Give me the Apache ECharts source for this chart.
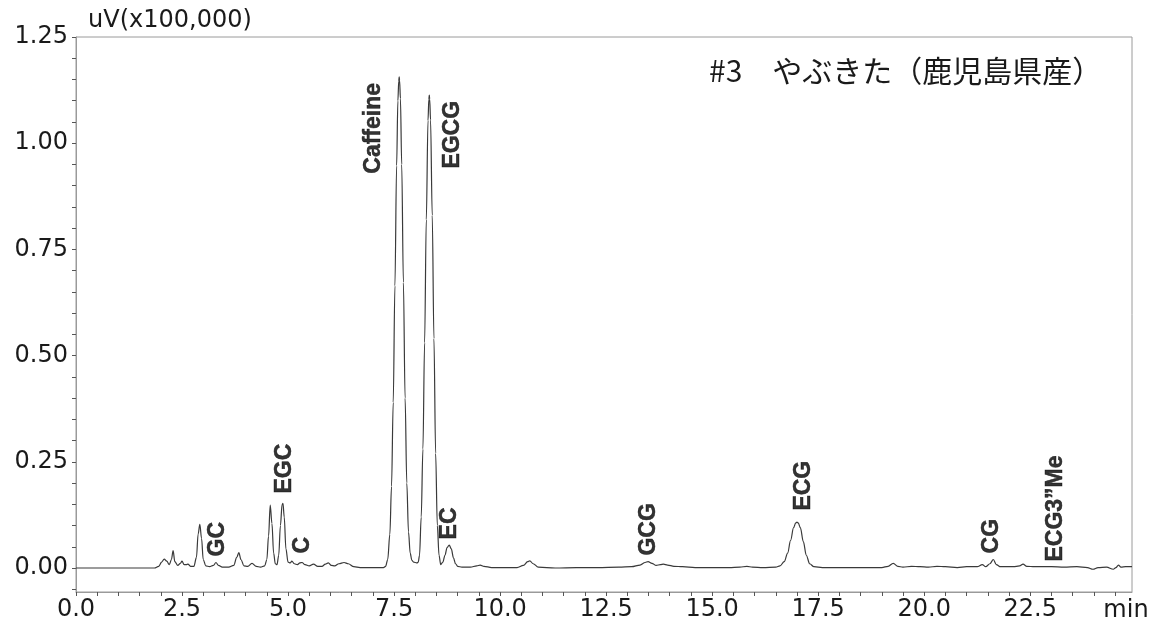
<!DOCTYPE html>
<html><head><meta charset="utf-8">
<script src="https://cdn.jsdelivr.net/npm/echarts@6/dist/echarts.min.js"></script>
<style>html,body{margin:0;padding:0;background:#fff}#c{width:1166px;height:644px}</style>
</head><body><div id="c"></div>
<script>
// Retention time (min)
const times = [
  0, 1.85, 1.95, 2.02, 2.08, 2.14, 2.20, 2.25, 2.29, 2.33, 2.40, 2.46, 2.50, 2.55, 2.60, 2.64, 2.70, 2.78,
  2.84, 2.88, 2.92, 2.96, 3.00, 3.06, 3.15, 3.24, 3.30, 3.36, 3.45, 3.60, 3.72, 3.79, 3.84, 3.89, 3.96,
  4.05, 4.15, 4.25, 4.35, 4.45, 4.50, 4.54, 4.58, 4.62, 4.66, 4.70, 4.74, 4.78, 4.82, 4.86, 4.88, 4.91,
  4.95, 5.00, 5.05, 5.09, 5.15, 5.22, 5.28, 5.33, 5.40, 5.50, 5.60, 5.70, 5.80, 5.88, 5.95, 6.02, 6.10,
  6.20, 6.32, 6.42, 6.55, 6.70, 7.00, 7.25,
  7.30, 7.35, 7.40, 7.44, 7.48, 7.52, 7.56, 7.59, 7.61, 7.62, 7.63, 7.65, 7.68, 7.72, 7.76, 7.80, 7.84, 7.88, 7.92,
  7.96, 8.00, 8.04, 8.07, 8.10, 8.14, 8.18, 8.22, 8.26, 8.30, 8.32, 8.33, 8.34, 8.36, 8.40, 8.44, 8.48, 8.52, 8.56,
  8.60, 8.65, 8.70, 8.75, 8.80, 8.85, 8.90, 8.95, 9.00, 9.10, 9.30, 9.45, 9.53, 9.62, 9.80, 10.40, 10.55,
  10.65, 10.70, 10.78, 10.90, 11.30, 11.80, 12.30, 12.80, 13.10, 13.30, 13.42, 13.49, 13.58, 13.68, 13.78,
  13.85, 13.95, 14.10, 14.30, 14.60, 15.00, 15.40, 15.65, 15.82, 15.95, 16.20, 16.50, 16.60, 16.70, 16.78,
  16.85, 16.92, 16.97, 17.00, 17.03, 17.08, 17.15, 17.22, 17.30, 17.40, 17.60, 18.00, 18.50, 19.00, 19.15, 19.27, 19.38,
  19.50, 19.70, 19.90, 20.10, 20.30, 20.50, 20.78, 21.00, 21.25, 21.37, 21.45, 21.55, 21.63, 21.70, 21.80,
  22.10, 22.25, 22.33, 22.42, 22.60, 23.00, 23.30, 23.60, 23.85, 23.98, 24.10, 24.30, 24.46, 24.52, 24.58,
  24.64, 24.75, 24.90
];
// Detector signal, uV (x100,000)
const signal = [
  0.000, 0.000, 0.004, 0.014, 0.021, 0.016, 0.008, 0.020, 0.041, 0.015, 0.006, 0.011, 0.016, 0.008, 0.008, 0.009, 0.004, 0.004,
  0.025, 0.080, 0.103, 0.070, 0.020, 0.005, 0.003, 0.006, 0.013, 0.006, 0.002, 0.002, 0.006, 0.025, 0.036, 0.020, 0.005,
  0.004, 0.011, 0.004, 0.002, 0.005, 0.020, 0.075, 0.148, 0.105, 0.035, 0.010, 0.008, 0.030, 0.100, 0.150, 0.152, 0.120,
  0.045, 0.014, 0.012, 0.016, 0.010, 0.008, 0.012, 0.013, 0.008, 0.005, 0.009, 0.004, 0.004, 0.009, 0.012, 0.006, 0.005,
  0.010, 0.013, 0.010, 0.003, 0.001, 0.001, 0.001,
  0.004, 0.020, 0.079, 0.192, 0.390, 0.664, 0.947, 1.100, 1.146, 1.156, 1.148, 1.105, 0.950, 0.672, 0.400, 0.200, 0.085, 0.035, 0.018,
  0.014, 0.013, 0.012, 0.014, 0.030, 0.120, 0.280, 0.530, 0.820, 1.053, 1.103, 1.113, 1.104, 1.055, 0.830, 0.540, 0.270, 0.100, 0.030,
  0.008, 0.014, 0.030, 0.048, 0.054, 0.045, 0.024, 0.010, 0.004, 0.002, 0.002, 0.005, 0.007, 0.004, 0.001, 0.001, 0.006,
  0.015, 0.017, 0.010, 0.002, 0.000, 0.001, 0.001, 0.002, 0.003, 0.007, 0.013, 0.015, 0.011, 0.006, 0.008,
  0.009, 0.007, 0.004, 0.003, 0.001, 0.001, 0.001, 0.002, 0.004, 0.002, 0.001, 0.002, 0.005, 0.015, 0.035,
  0.065, 0.095, 0.106, 0.108, 0.106, 0.095, 0.062, 0.030, 0.010, 0.003, 0.001, 0.001, 0.001, 0.001, 0.004, 0.011, 0.004,
  0.002, 0.004, 0.003, 0.002, 0.004, 0.003, 0.001, 0.003, 0.003, 0.008, 0.003, 0.010, 0.020, 0.008, 0.003,
  0.003, 0.005, 0.009, 0.004, 0.003, 0.003, 0.002, 0.003, 0.001, -0.003, 0.001, 0.002, -0.003, 0.001, 0.007,
  0.002, 0.003, 0.003
];
// Peak annotations
const peakNames = ['GC', 'EGC', 'C', 'Caffeine', 'EGCG', 'EC', 'GCG', 'ECG', 'CG', 'ECG3\u201dMe'];
const peakLabelTimes = [3.35, 4.93, 5.35, 7.03, 8.87, 8.82, 13.51, 17.15, 21.60, 23.09];
const peakLabelLevels = [0.026, 0.174, 0.033, 0.927, 0.939, 0.066, 0.028, 0.134, 0.033, 0.014];
// Axis ticks and labels
const xLabelValues = [0, 2.5, 5, 7.5, 10, 12.5, 15, 17.5, 20, 22.5];
const xTickValues = [0, 0.5, 1, 1.5, 2, 2.5, 3, 3.5, 4, 4.5, 5, 5.5, 6, 6.5, 7, 7.5, 8, 8.5, 9, 9.5, 10, 10.5, 11, 11.5,
  12, 12.5, 13, 13.5, 14, 14.5, 15, 15.5, 16, 16.5, 17, 17.5, 18, 18.5, 19, 19.5, 20, 20.5, 21, 21.5, 22, 22.5, 23, 23.5, 24, 24.5];
const yLabelValues = [0, 0.25, 0.5, 0.75, 1.0, 1.25];
const yTickValues = [-0.05, 0, 0.05, 0.1, 0.15, 0.2, 0.25, 0.3, 0.35, 0.4, 0.45, 0.5, 0.55, 0.6, 0.65, 0.7, 0.75, 0.8, 0.85,
  0.9, 0.95, 1.0, 1.05, 1.1, 1.15, 1.2, 1.25];
const titleText = '#3\u3000やぶきた（鹿児島県産）';
const yAxisName = 'uV(x100,000)';
const xAxisName = 'min';

const chart = echarts.init(document.getElementById('c'), null, {renderer: 'canvas'});
const lineData = times.map((t, i) => [t, signal[i]]);
const labelData = peakNames.map((n, i) => ({name: n, value: [peakLabelTimes[i], peakLabelLevels[i]]}));
const axisFont = {fontFamily: 'DejaVu Sans', fontSize: 24, color: '#1a1a1a'};
chart.setOption({
  animation: false,
  backgroundColor: '#ffffff',
  title: {
    text: titleText, left: 704, top: 51,
    textStyle: {fontFamily: 'Noto Sans CJK JP', fontWeight: 'normal', fontSize: 30, color: '#1a1a1a'}
  },
  grid: {left: 76, right: 34, top: 37, bottom: 52, show: true, borderColor: '#9a9a9a', borderWidth: 1},
  xAxis: {
    type: 'value', min: 0, max: 24.9,
    name: xAxisName, nameLocation: 'end', nameGap: -6,
    nameTextStyle: Object.assign({align: 'center', verticalAlign: 'top', padding: [7, 0, 0, 0]}, axisFont),
    axisLine: {show: true, onZero: false, lineStyle: {color: '#9a9a9a', width: 1}},
    axisTick: {show: true, inside: false, length: 4, customValues: xTickValues, lineStyle: {color: '#555'}},
    axisLabel: Object.assign({margin: 6, customValues: xLabelValues, formatter: v => v.toFixed(1)}, axisFont),
    splitLine: {show: false}
  },
  yAxis: {
    type: 'value', min: -0.0565, max: 1.25,
    name: yAxisName, nameLocation: 'end', nameGap: 4,
    nameTextStyle: Object.assign({align: 'left', verticalAlign: 'bottom', padding: [0, 0, 0, 12]}, axisFont),
    axisLine: {show: true, onZero: false, lineStyle: {color: '#9a9a9a', width: 1}},
    axisTick: {show: true, inside: false, length: 4, customValues: yTickValues, lineStyle: {color: '#555'}},
    axisLabel: Object.assign({margin: 8, customValues: yLabelValues, formatter: v => v.toFixed(2)}, axisFont),
    splitLine: {show: false}
  },
  series: [
    {
      type: 'line', data: lineData, showSymbol: false, smooth: 0.35, smoothMonotone: 'x',
      lineStyle: {color: '#3a3a3a', width: 1.2}, silent: true, z: 3
    },
    {
      type: 'scatter', data: labelData, symbol: 'circle', symbolSize: 1,
      itemStyle: {color: 'rgba(255,255,255,0)'}, silent: true, z: 5,
      label: {
        show: true, formatter: p => p.name, position: 'top', distance: 0, rotate: 90,
        align: 'left', verticalAlign: 'middle',
        fontFamily: 'Liberation Sans', fontWeight: 'bold', fontSize: 23, color: '#000',
        textBorderColor: '#000', textBorderWidth: 0.5
      }
    }
  ]
});
</script></body></html>
